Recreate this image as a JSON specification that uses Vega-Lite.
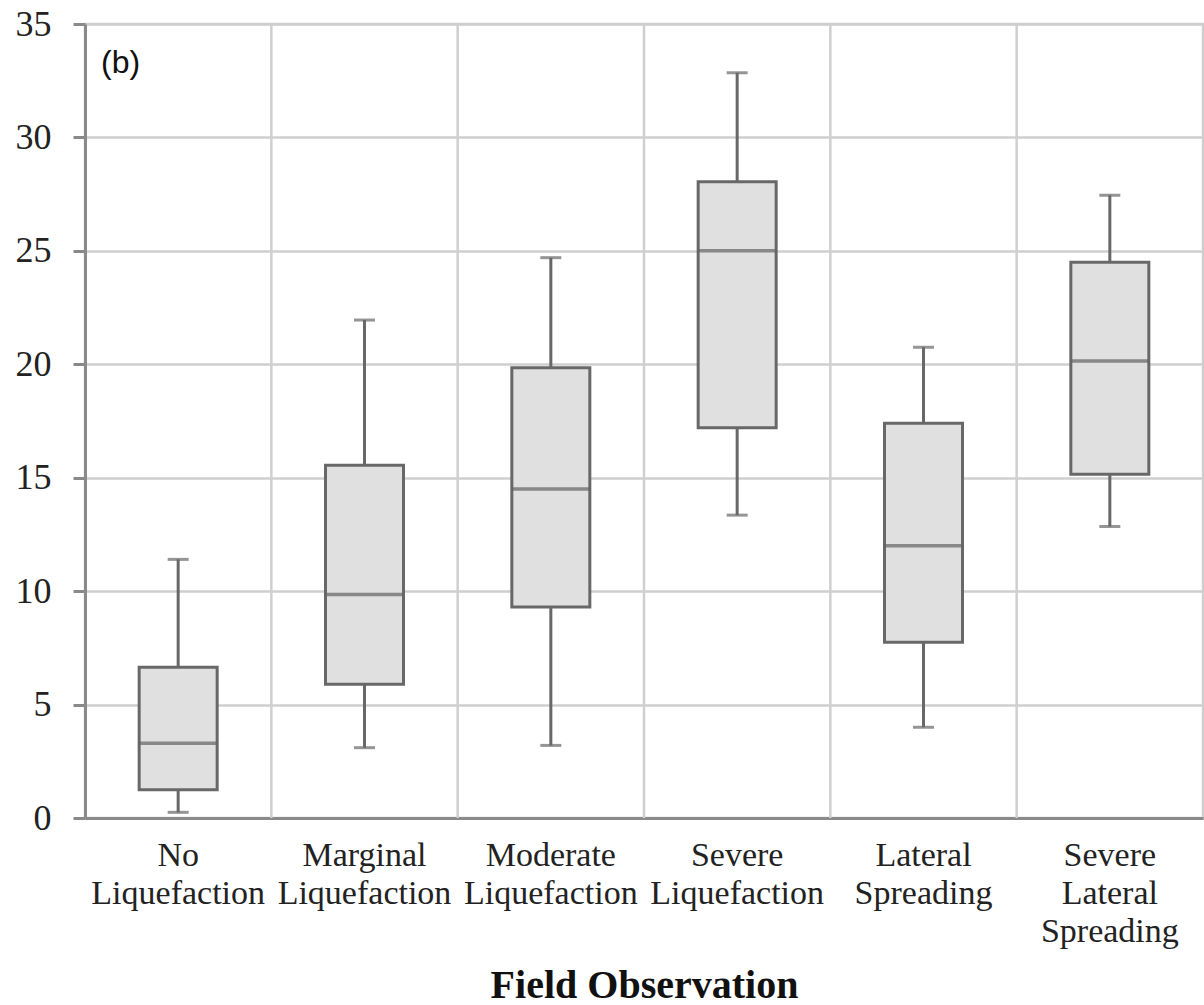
{
  "$schema": "https://vega.github.io/schema/vega-lite/v6.json",
  "autosize": "none",
  "width": 1118,
  "height": 794,
  "padding": {"left": 85, "top": 24, "right": 1, "bottom": 187},
  "background": "white",
  "config": {
    "view": {"stroke": "#cfcfcf", "strokeWidth": 2.5},
    "font": "Liberation Serif"
  },
  "data": {
    "values": [
      {"cat": "No Liquefaction", "min": 0.25, "q1": 1.25, "median": 3.3, "q3": 6.65, "max": 11.4},
      {"cat": "Marginal Liquefaction", "min": 3.1, "q1": 5.9, "median": 9.85, "q3": 15.55, "max": 21.95},
      {"cat": "Moderate Liquefaction", "min": 3.2, "q1": 9.3, "median": 14.5, "q3": 19.85, "max": 24.7},
      {"cat": "Severe Liquefaction", "min": 13.35, "q1": 17.2, "median": 25.0, "q3": 28.05, "max": 32.85},
      {"cat": "Lateral Spreading", "min": 4.0, "q1": 7.75, "median": 12.0, "q3": 17.4, "max": 20.75},
      {"cat": "Severe Lateral Spreading", "min": 12.85, "q1": 15.15, "median": 20.15, "q3": 24.5, "max": 27.45}
    ]
  },
  "encoding": {
    "x": {
      "field": "cat",
      "type": "nominal",
      "sort": ["No Liquefaction", "Marginal Liquefaction", "Moderate Liquefaction", "Severe Liquefaction", "Lateral Spreading", "Severe Lateral Spreading"],
      "scale": {"paddingInner": 0, "paddingOuter": 0},
      "axis": {
        "title": "Field Observation",
        "titleFont": "Liberation Serif",
        "titleFontSize": 40,
        "titleFontWeight": "bold",
        "titleColor": "#111",
        "titlePadding": 17,
        "labelAngle": 0,
        "labelExpr": "split(datum.value, ' ')",
        "labelFont": "Liberation Serif",
        "labelFontSize": 34,
        "labelLineHeight": 38,
        "labelColor": "#222",
        "labelPadding": 20,
        "labelBaseline": "top",
        "ticks": false,
        "grid": false,
        "domainColor": "#8a8a8a",
        "domainWidth": 3
      }
    }
  },
  "layer": [
    {
      "transform": [{"filter": "datum.cat != 'No Liquefaction'"}],
      "mark": {"type": "rule", "color": "#cfcfcf", "strokeWidth": 2.5},
      "encoding": {
        "x": {"field": "cat", "type": "nominal", "bandPosition": 0, "sort": ["No Liquefaction", "Marginal Liquefaction", "Moderate Liquefaction", "Severe Liquefaction", "Lateral Spreading", "Severe Lateral Spreading"]}
      }
    },
    {
      "mark": {"type": "rule", "color": "#686868", "strokeWidth": 3},
      "encoding": {
        "y": {
          "field": "min",
          "type": "quantitative",
          "scale": {"domain": [0, 35], "nice": false},
          "axis": {
            "title": null,
            "values": [0, 5, 10, 15, 20, 25, 30, 35],
            "labelFont": "Liberation Serif",
            "labelFontSize": 36,
            "labelColor": "#222",
            "labelPadding": 22,
            "tickSize": 12,
            "tickColor": "#8a8a8a",
            "tickWidth": 3,
            "domainColor": "#8a8a8a",
            "domainWidth": 3,
            "grid": true,
            "gridColor": "#cfcfcf",
            "gridWidth": 2.5
          }
        },
        "y2": {"field": "max"}
      }
    },
    {
      "mark": {"type": "tick", "color": "#686868", "size": 21, "thickness": 3, "orient": "horizontal"},
      "encoding": {"y": {"field": "min", "type": "quantitative"}}
    },
    {
      "mark": {"type": "tick", "color": "#686868", "size": 21, "thickness": 3, "orient": "horizontal"},
      "encoding": {"y": {"field": "max", "type": "quantitative"}}
    },
    {
      "mark": {"type": "bar", "size": 78, "fill": "#e0e0e0", "stroke": "#686868", "strokeWidth": 3},
      "encoding": {
        "y": {"field": "q1", "type": "quantitative"},
        "y2": {"field": "q3"}
      }
    },
    {
      "mark": {"type": "tick", "color": "#626262", "size": 78, "thickness": 3.5, "orient": "horizontal"},
      "encoding": {"y": {"field": "median", "type": "quantitative"}}
    },
    {
      "data": {"values": [{"label": "(b)", "cat": "No Liquefaction", "v": 33.3}]},
      "mark": {"type": "text", "font": "Liberation Sans", "fontSize": 32, "align": "left", "baseline": "middle", "dx": 16, "color": "#111"},
      "encoding": {
        "x": {"field": "cat", "type": "nominal", "bandPosition": 0, "sort": ["No Liquefaction", "Marginal Liquefaction", "Moderate Liquefaction", "Severe Liquefaction", "Lateral Spreading", "Severe Lateral Spreading"]},
        "y": {"field": "v", "type": "quantitative"},
        "text": {"field": "label"}
      }
    }
  ]
}
